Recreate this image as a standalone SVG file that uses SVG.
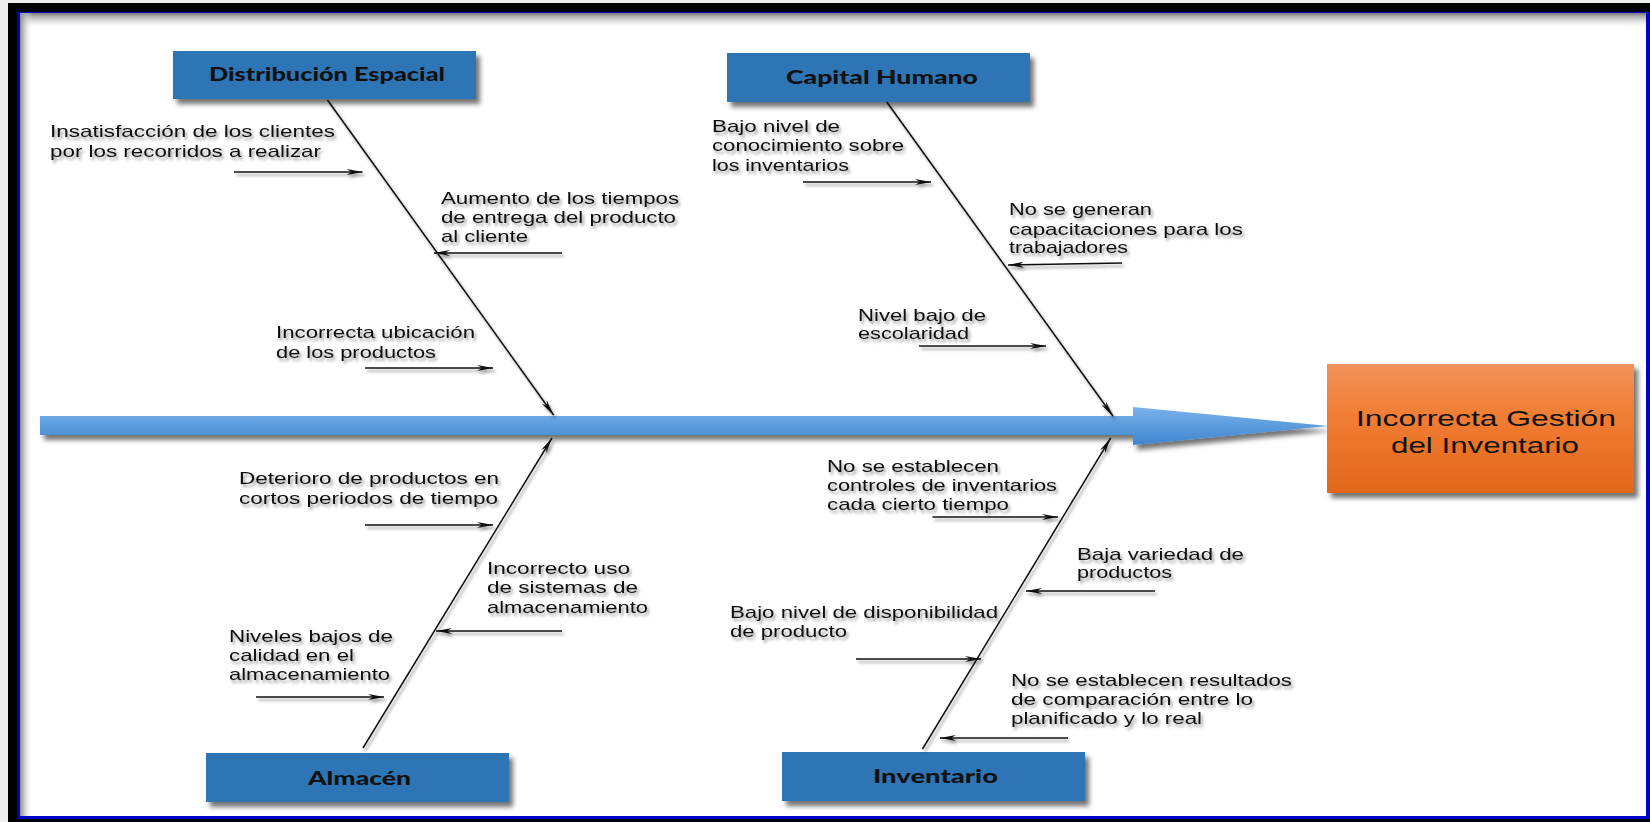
<svg xmlns="http://www.w3.org/2000/svg" width="1650" height="822" viewBox="0 0 1650 822">
<style>
.t{font-family:"Liberation Sans",Arial,sans-serif;font-size:17px;fill:#111;}
.h{font-family:Lato,"Open Sans",sans-serif;font-weight:900;font-size:18px;fill:#111;}
.o{font-family:"Liberation Sans",Arial,sans-serif;font-size:22px;fill:#111;}
.cat{fill:#2e74b5;}
.ar{stroke:#111;stroke-width:1.3;fill:none;marker-end:url(#mk);}
.bone{stroke:#111;stroke-width:1.5;fill:none;marker-end:url(#mk);}
</style>
<defs>
<marker id="mk" viewBox="0 0 16 6" refX="16" refY="3" markerWidth="16" markerHeight="6" markerUnits="userSpaceOnUse" orient="auto">
<path d="M0,0 L16,3 L0,6 L5,3 Z" fill="#111"/>
</marker>
<filter id="ts" x="-10%" y="-30%" width="130%" height="180%">
<feDropShadow dx="2" dy="3" stdDeviation="1.6" flood-color="#000" flood-opacity="0.4"/>
</filter>
<filter id="bs" x="-10%" y="-20%" width="130%" height="160%">
<feDropShadow dx="4" dy="5" stdDeviation="2.5" flood-color="#000" flood-opacity="0.55"/>
</filter>
<linearGradient id="shaftG" gradientUnits="userSpaceOnUse" x1="0" y1="407" x2="0" y2="445">
<stop offset="0" stop-color="#79b2ea"/>
<stop offset="1" stop-color="#3f85cf"/>
</linearGradient>
<linearGradient id="orG" x1="0" y1="0" x2="0" y2="1">
<stop offset="0" stop-color="#f1925c"/>
<stop offset="0.4" stop-color="#f07d33"/>
<stop offset="1" stop-color="#e3661b"/>
</linearGradient>
<linearGradient id="topSh" x1="0" y1="0" x2="0" y2="1">
<stop offset="0" stop-color="#7a7a7a"/>
<stop offset="1" stop-color="#ffffff" stop-opacity="0"/>
</linearGradient>
<linearGradient id="leftSh" x1="0" y1="0" x2="1" y2="0">
<stop offset="0" stop-color="#8a8a8a"/>
<stop offset="1" stop-color="#ffffff" stop-opacity="0"/>
</linearGradient>
</defs>

<!-- frame -->
<rect x="0" y="0" width="1650" height="822" fill="#eeeeee"/>
<rect x="8" y="3" width="1642" height="819" fill="#000"/>
<rect x="17" y="12" width="1633" height="807" fill="#0000cc"/>
<rect x="20" y="13" width="1626" height="803" fill="#fff"/>
<rect x="20" y="13" width="1626" height="16" fill="url(#topSh)"/>
<rect x="20" y="13" width="13" height="803" fill="url(#leftSh)"/>

<!-- main spine -->
<g id="spine" filter="url(#bs)">
<path d="M40,416 L1133,416 L1133,407 L1328,426 L1133,445 L1133,435 L40,435 Z" fill="url(#shaftG)"/>
</g>

<!-- effect -->
<g id="effect">
<rect x="1327" y="364" width="307" height="129" fill="url(#orG)" filter="url(#bs)"/>
<text class="o" x="1356" y="426" textLength="260" lengthAdjust="spacingAndGlyphs">Incorrecta Gestión</text>
<text class="o" x="1391" y="453" textLength="188" lengthAdjust="spacingAndGlyphs">del Inventario</text>
</g>

<!-- category nodes -->
<g id="cat-distribucion">
<rect class="cat" x="173" y="51" width="303" height="48" filter="url(#bs)"/>
<text class="h" x="209" y="81" textLength="236" lengthAdjust="spacingAndGlyphs">Distribución Espacial</text>
</g>
<g id="cat-capital">
<rect class="cat" x="727" y="53" width="303" height="49" filter="url(#bs)"/>
<text class="h" x="786" y="84" textLength="192" lengthAdjust="spacingAndGlyphs">Capital Humano</text>
</g>
<g id="cat-almacen">
<rect class="cat" x="206" y="753" width="303" height="49" filter="url(#bs)"/>
<text class="h" x="308" y="785" textLength="103" lengthAdjust="spacingAndGlyphs">Almacén</text>
</g>
<g id="cat-inventario">
<rect class="cat" x="782" y="752" width="303" height="49" filter="url(#bs)"/>
<text class="h" x="873" y="783" textLength="125" lengthAdjust="spacingAndGlyphs">Inventario</text>
</g>

<!-- connectors -->
<g id="connectors" filter="url(#ts)">
<line class="bone" x1="327.5" y1="100" x2="553.6" y2="415"/>
<line class="bone" x1="886.8" y1="102" x2="1112.9" y2="416"/>
<line class="bone" x1="363" y1="748" x2="552" y2="438"/>
<line class="bone" x1="922.5" y1="749" x2="1110.7" y2="438"/>
<line class="ar" x1="234" y1="172" x2="362.5" y2="172"/>
<line class="ar" x1="562" y1="253" x2="434" y2="253"/>
<line class="ar" x1="365" y1="368" x2="493" y2="368"/>
<line class="ar" x1="803" y1="182" x2="931" y2="182"/>
<line class="ar" x1="1122" y1="263" x2="1008" y2="265"/>
<line class="ar" x1="919" y1="346" x2="1046" y2="346"/>
<line class="ar" x1="365" y1="525" x2="493" y2="525"/>
<line class="ar" x1="562" y1="631" x2="436" y2="631"/>
<line class="ar" x1="256" y1="697" x2="384" y2="697"/>
<line class="ar" x1="932.5" y1="517" x2="1058" y2="517"/>
<line class="ar" x1="1155" y1="591" x2="1026" y2="591"/>
<line class="ar" x1="856" y1="659" x2="981" y2="659"/>
<line class="ar" x1="1068" y1="738" x2="940" y2="738"/>
</g>

<!-- cause texts -->
<g id="cause-insatisfaccion" filter="url(#ts)">
<text class="t" x="50" y="137" textLength="285" lengthAdjust="spacingAndGlyphs">Insatisfacción de los clientes</text>
<text class="t" x="50" y="157" textLength="271" lengthAdjust="spacingAndGlyphs">por los recorridos a realizar</text>
</g>
<g id="cause-aumento" filter="url(#ts)">
<text class="t" x="441" y="204" textLength="238" lengthAdjust="spacingAndGlyphs">Aumento de los tiempos</text>
<text class="t" x="441" y="223" textLength="235" lengthAdjust="spacingAndGlyphs">de entrega del producto</text>
<text class="t" x="441" y="242" textLength="87" lengthAdjust="spacingAndGlyphs">al cliente</text>
</g>
<g id="cause-ubicacion" filter="url(#ts)">
<text class="t" x="276" y="338" textLength="199" lengthAdjust="spacingAndGlyphs">Incorrecta ubicación</text>
<text class="t" x="276" y="358" textLength="160" lengthAdjust="spacingAndGlyphs">de los productos</text>
</g>
<g id="cause-conocimiento" filter="url(#ts)">
<text class="t" x="712" y="132" textLength="128" lengthAdjust="spacingAndGlyphs">Bajo nivel de</text>
<text class="t" x="712" y="151" textLength="192" lengthAdjust="spacingAndGlyphs">conocimiento sobre</text>
<text class="t" x="712" y="171" textLength="137" lengthAdjust="spacingAndGlyphs">los inventarios</text>
</g>
<g id="cause-capacitaciones" filter="url(#ts)">
<text class="t" x="1009" y="215" textLength="143" lengthAdjust="spacingAndGlyphs">No se generan</text>
<text class="t" x="1009" y="235" textLength="234" lengthAdjust="spacingAndGlyphs">capacitaciones para los</text>
<text class="t" x="1009" y="253" textLength="119" lengthAdjust="spacingAndGlyphs">trabajadores</text>
</g>
<g id="cause-escolaridad" filter="url(#ts)">
<text class="t" x="858" y="321" textLength="128" lengthAdjust="spacingAndGlyphs">Nivel bajo de</text>
<text class="t" x="858" y="339" textLength="111" lengthAdjust="spacingAndGlyphs">escolaridad</text>
</g>
<g id="cause-deterioro" filter="url(#ts)">
<text class="t" x="239" y="484" textLength="260" lengthAdjust="spacingAndGlyphs">Deterioro de productos en</text>
<text class="t" x="239" y="504" textLength="259" lengthAdjust="spacingAndGlyphs">cortos periodos de tiempo</text>
</g>
<g id="cause-sistemas" filter="url(#ts)">
<text class="t" x="487" y="574" textLength="143" lengthAdjust="spacingAndGlyphs">Incorrecto uso</text>
<text class="t" x="487" y="593" textLength="151" lengthAdjust="spacingAndGlyphs">de sistemas de</text>
<text class="t" x="487" y="613" textLength="161" lengthAdjust="spacingAndGlyphs">almacenamiento</text>
</g>
<g id="cause-calidad" filter="url(#ts)">
<text class="t" x="229" y="642" textLength="164" lengthAdjust="spacingAndGlyphs">Niveles bajos de</text>
<text class="t" x="229" y="661" textLength="125" lengthAdjust="spacingAndGlyphs">calidad en el</text>
<text class="t" x="229" y="680" textLength="161" lengthAdjust="spacingAndGlyphs">almacenamiento</text>
</g>
<g id="cause-controles" filter="url(#ts)">
<text class="t" x="827" y="472" textLength="172" lengthAdjust="spacingAndGlyphs">No se establecen</text>
<text class="t" x="827" y="491" textLength="230" lengthAdjust="spacingAndGlyphs">controles de inventarios</text>
<text class="t" x="827" y="510" textLength="182" lengthAdjust="spacingAndGlyphs">cada cierto tiempo</text>
</g>
<g id="cause-variedad" filter="url(#ts)">
<text class="t" x="1077" y="560" textLength="167" lengthAdjust="spacingAndGlyphs">Baja variedad de</text>
<text class="t" x="1077" y="578" textLength="95" lengthAdjust="spacingAndGlyphs">productos</text>
</g>
<g id="cause-disponibilidad" filter="url(#ts)">
<text class="t" x="730" y="618" textLength="268" lengthAdjust="spacingAndGlyphs">Bajo nivel de disponibilidad</text>
<text class="t" x="730" y="637" textLength="117" lengthAdjust="spacingAndGlyphs">de producto</text>
</g>
<g id="cause-resultados" filter="url(#ts)">
<text class="t" x="1011" y="686" textLength="281" lengthAdjust="spacingAndGlyphs">No se establecen resultados</text>
<text class="t" x="1011" y="705" textLength="242" lengthAdjust="spacingAndGlyphs">de comparación entre lo</text>
<text class="t" x="1011" y="724" textLength="191" lengthAdjust="spacingAndGlyphs">planificado y lo real</text>
</g>
</svg>
